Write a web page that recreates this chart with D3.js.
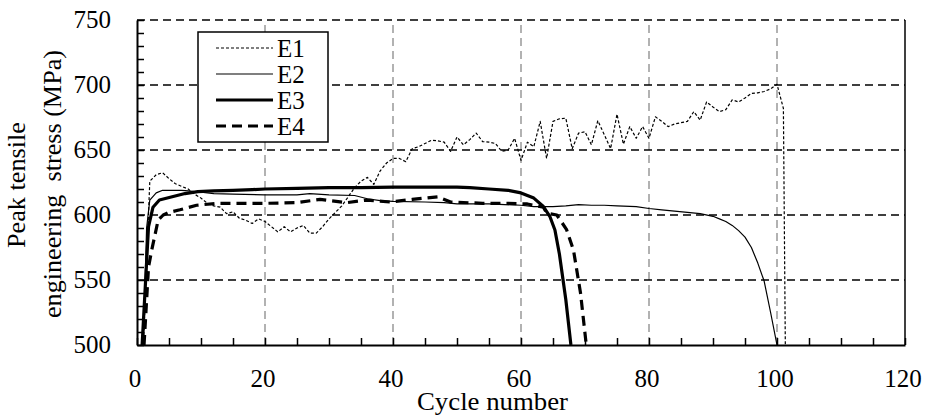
<!DOCTYPE html>
<html>
<head>
<meta charset="utf-8">
<script src="https://cdn.jsdelivr.net/npm/d3@7"></script>
<style>
  body { margin: 0; background: #fff; }
</style>
</head>
<body>
<svg></svg>
<script>
// values: [cycle, stress MPa]
const e1Data = [[1,500],[2,626],[3,631],[4,632.5],[5,628],[6,624],[7,622],[8,620],[9,616],[10,613],[11,609],[12,607],[13,606],[14,601],[15,602.5],[16,597.5],[17,596],[18,593.5],[19,597],[20,595],[21,591],[22,587],[23,591],[24,587],[25,590],[26,592],[27,586],[28,586],[29,591],[30,597],[31,602],[32,607],[33,614],[34,621],[35,626],[36,629],[37,623.5],[38,634],[39,640],[40,643.5],[41,643.5],[42,641],[43,651],[44,652.5],[45,655],[46,657.5],[47,657],[48,656],[49,649],[50,660],[51,654],[52,658],[53,663],[54,656.5],[55,656],[56,655],[57,649],[58,650],[59,659],[60,642],[61,656],[62,652.5],[63,672],[64,643.5],[65,672],[66,674],[67,674.5],[68,651],[69,663],[70,664],[71,654],[72,672.5],[73,662],[74,651],[75,677.5],[76,654.5],[77,668],[78,659],[79,668],[80,659],[81,675.5],[82,672],[83,668],[84,670],[85,671],[86,672],[87,679.5],[88,673],[89,687],[90,683],[91,679.5],[92,681],[93,688.5],[94,687],[95,690],[96,693.5],[97,694],[98,695],[99,697],[100,700.5],[101,682],[101.3,500]];
const e2Data = [[1,500],[1.5,590],[2,611.5],[3,617],[4,619],[5,619],[6,619],[7,619],[8,618.5],[9,618],[10,617.5],[12,616.5],[15,616],[20,615.5],[25,615.5],[27,616.5],[30,615.5],[34,615],[36,612.5],[38,611],[40,610.5],[45,610],[48,609.5],[50,608.5],[55,608.5],[60,607.5],[62,606.5],[65,606.5],[67,607],[69,608],[71,607.5],[73,607.5],[75,607],[78,606.5],[80,605],[82,604],[84,603],[86,602],[88,601],[90,599],[91,597],[92,595],[93,592],[94,588],[95,583],[96,575],[97,563],[98,549],[99,525],[100,500]];
const e3Data = [[0.8,500],[1.8,591],[2.5,606],[3.5,611.5],[5.5,614],[7.5,616.5],[9.5,618],[12,618.5],[15,619],[18,619.5],[20,620],[25,620.5],[30,621],[35,621],[40,621.5],[45,621.5],[50,621.5],[52,621],[55,620],[58,619],[60,617],[62,613],[63.5,606.5],[64.5,599],[65.3,588.5],[66,570],[67,535],[67.8,500]];
const e4Data = [[1.1,500],[1.8,560],[2.3,573],[3.3,596],[4.1,600],[5,602],[6.7,604],[9.3,607.5],[12.5,609],[15,609],[20,609],[25,609.5],[28.6,612],[32.8,609.5],[35.9,611.5],[39.5,610],[43,612],[47,614],[49,610],[54,609],[58,609],[61,608.5],[63.5,606],[64,601.5],[65.6,600],[67.1,589],[68.2,573],[69.3,540],[70.2,500]];

const seriesNames = ["E1", "E2", "E3", "E4"];
const xTicks = [0, 20, 40, 60, 80, 100, 120];
const yTicks = [500, 550, 600, 650, 700, 750];

const width = 927, height = 415;
const svg = d3.select("svg").attr("width", width).attr("height", height)
    .attr("font-family", "'Liberation Serif', 'Times New Roman', serif");

const x = d3.scaleLinear().domain([0, 120]).range([137, 905]);
const y = d3.scaleLinear().domain([500, 750]).range([345, 20]);

// grid
svg.append("g").selectAll("line")
    .data(xTicks.filter(d => d > 0 && d < 120))
    .join("line")
    .attr("x1", d => x(d)).attr("x2", d => x(d))
    .attr("y1", y(500)).attr("y2", y(750))
    .attr("stroke", "#999").attr("stroke-width", 1.5)
    .attr("stroke-dasharray", "8,5");

svg.append("g").selectAll("line")
    .data(yTicks.filter(d => d > 500))
    .join("line")
    .attr("x1", x(0)).attr("x2", x(120))
    .attr("y1", d => y(d)).attr("y2", d => y(d))
    .attr("stroke", "#000").attr("stroke-width", 1.5)
    .attr("stroke-dasharray", "8,5");

// frame
svg.append("line").attr("x1", x(120)).attr("x2", x(120)).attr("y1", y(750)).attr("y2", y(500))
    .attr("stroke", "#000").attr("stroke-width", 1.5);

// lines
svg.append("defs").append("clipPath").attr("id", "clip")
    .append("rect").attr("x", x(0)).attr("y", y(750)).attr("width", x(120) - x(0)).attr("height", y(500) - y(750));

const line = d3.line().x(d => x(d[0])).y(d => y(d[1]));
const styles = [
    { w: 1.2, dash: "3,2" },
    { w: 1.2, dash: null },
    { w: 3.2, dash: null },
    { w: 3.2, dash: "10,6" }
];
const allData = [e1Data, e2Data, e3Data, e4Data];

const lines = svg.append("g").attr("clip-path", "url(#clip)");
allData.forEach((d, i) => {
    lines.append("path")
        .datum(d)
        .attr("d", line)
        .attr("fill", "none")
        .attr("stroke", "#000")
        .attr("stroke-width", styles[i].w)
        .attr("stroke-linejoin", "round")
        .attr("stroke-dasharray", styles[i].dash);
});

// axes (inward ticks)
const xAxis = d3.axisBottom(x).tickValues(d3.range(0, 121, 5)).tickSizeInner(-7).tickSizeOuter(0).tickFormat("");
svg.append("g").attr("transform", `translate(0,${y(500)})`).call(xAxis)
    .call(g => g.select(".domain").attr("stroke", "#000").attr("stroke-width", 2))
    .call(g => g.selectAll(".tick line").attr("stroke", "#000").attr("stroke-width", 1.5));

const yAxis = d3.axisLeft(y).tickValues(d3.range(500, 751, 10)).tickSizeInner(-7).tickSizeOuter(0).tickFormat("");
svg.append("g").attr("transform", `translate(${x(0)},0)`).call(yAxis)
    .call(g => g.select(".domain").attr("stroke", "#000").attr("stroke-width", 2))
    .call(g => g.selectAll(".tick line").attr("stroke", "#000").attr("stroke-width", 1.5));

svg.append("g").selectAll("text")
    .data(xTicks)
    .join("text")
    .attr("x", d => x(d) - 2).attr("y", 387)
    .attr("text-anchor", "middle")
    .attr("font-size", 25)
    .text(d => d);

svg.append("g").selectAll("text")
    .data(yTicks)
    .join("text")
    .attr("x", 111).attr("y", d => y(d) + 8)
    .attr("text-anchor", "end")
    .attr("font-size", 25)
    .text(d => d);

// axis titles
svg.append("text")
    .attr("x", 417).attr("y", 410)
    .attr("font-size", 25)
    .attr("textLength", 151).attr("lengthAdjust", "spacingAndGlyphs")
    .text("Cycle number");

svg.append("text")
    .attr("transform", "translate(25,248) rotate(-90)")
    .attr("font-size", 25)
    .attr("textLength", 126).attr("lengthAdjust", "spacingAndGlyphs")
    .text("Peak tensile");
svg.append("text")
    .attr("transform", "translate(61,318) rotate(-90)")
    .attr("font-size", 25)
    .attr("xml:space", "preserve")
    .attr("textLength", 268).attr("lengthAdjust", "spacingAndGlyphs")
    .text("engineering  stress (MPa)");

// legend
const legend = svg.append("g");
legend.append("rect")
    .attr("x", 198).attr("y", 32).attr("width", 130).attr("height", 110)
    .attr("fill", "#fff").attr("stroke", "#000").attr("stroke-width", 1.5);

const rowY = d3.scalePoint().domain(seriesNames).range([48, 126]);
seriesNames.forEach((name, i) => {
    legend.append("line")
        .attr("x1", 216).attr("x2", 273)
        .attr("y1", rowY(name)).attr("y2", rowY(name))
        .attr("stroke", "#000")
        .attr("stroke-width", styles[i].w)
        .attr("stroke-dasharray", styles[i].dash);
    legend.append("text")
        .attr("x", 277).attr("y", rowY(name) + 9)
        .attr("font-size", 25)
        .text(name);
});
</script>
</body>
</html>
